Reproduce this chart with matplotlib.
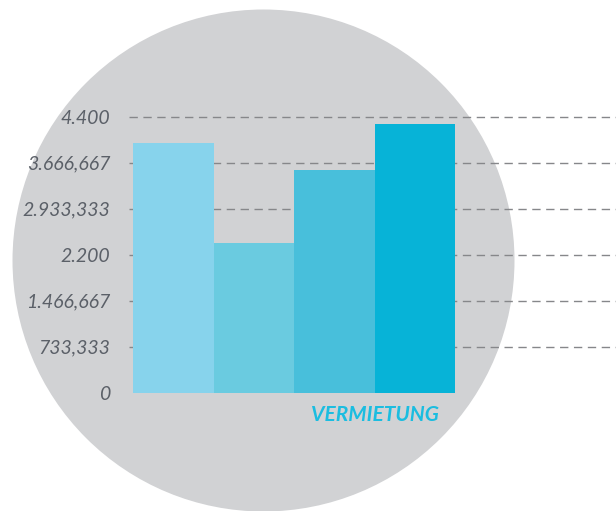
import matplotlib
matplotlib.use("Agg")
import matplotlib.pyplot as plt
from matplotlib.patches import Ellipse

# Data
categories = ["A", "B", "C", "D"]
values = [3980, 2390, 3550, 4290]
bar_colors = ["#87D3EC", "#6ACBE0", "#48BFDB", "#07B3D7"]
tick_values = [0, 733.333, 1466.667, 2200, 2933.333, 3666.667, 4400]
tick_labels = ["0", "733,333", "1.466,667", "2.200", "2.933,333", "3.666,667", "4.400"]
group_label = "VERMIETUNG"

W, H = 616, 511
fig = plt.figure(figsize=(W / 100, H / 100), dpi=100)
fig.patch.set_facecolor("white")

# background circle on a full-figure axes
bg = fig.add_axes([0, 0, 1, 1], zorder=0)
bg.set_xlim(0, W)
bg.set_ylim(H, 0)
bg.axis("off")
cx, cy, r = 263.5, 260.5, 251
bg.add_patch(Ellipse((cx, cy), 2 * r, 2 * r, facecolor="#D1D2D4", edgecolor="none"))

ax_left, ax_right = 129, 616
ax_top, ax_bottom = 116.7, 392.5
ax = fig.add_axes([ax_left / W, 1 - ax_bottom / H,
                   (ax_right - ax_left) / W, (ax_bottom - ax_top) / H], zorder=1)
ax.set_facecolor("none")

x = list(range(len(categories)))
ax.bar(x, values, width=1.0, color=bar_colors, zorder=3, linewidth=0)

ax.set_xlim(-0.55, 5.5)
ax.set_ylim(0, 4400)
ax.set_yticks(tick_values)
ax.set_yticklabels(tick_labels)
ax.set_xticks([])

for v in tick_values[1:]:
    ax.axhline(v, color="#86878A", linewidth=1.0, linestyle=(0, (6, 4)),
               zorder=1, clip_on=False)

for s in ax.spines.values():
    s.set_visible(False)
ax.tick_params(axis="y", length=0, pad=13.5, labelcolor="#5B6068")
for lab in ax.get_yticklabels():
    lab.set_fontfamily("Lato")
    lab.set_fontstyle("italic")
    lab.set_fontsize(14)

ax.text(2.5, -0.08, group_label, transform=ax.get_xaxis_transform(),
        ha="center", va="center", fontsize=15, fontweight="bold",
        fontstyle="italic", family="Lato", color="#1BBDE0")

fig.savefig("out.png", dpi=100)
